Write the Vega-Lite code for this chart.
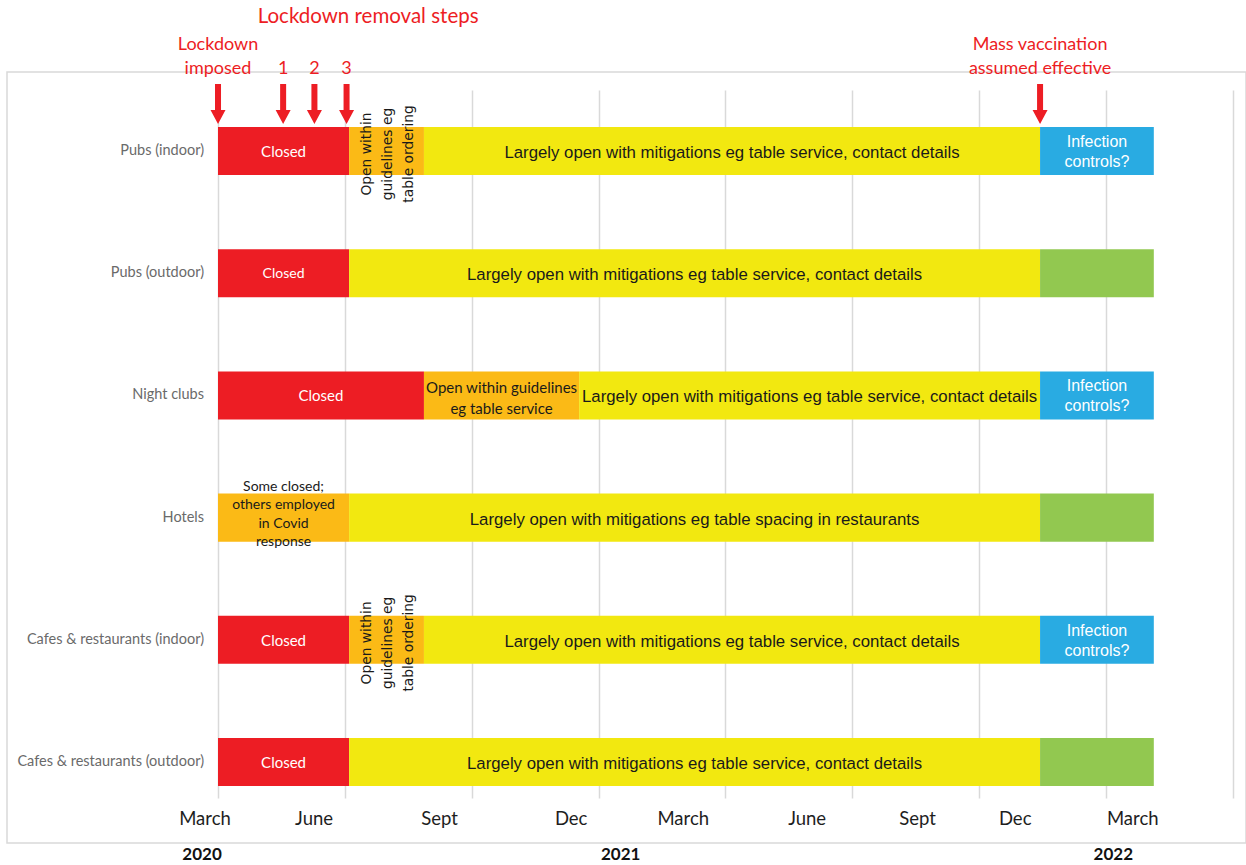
{
  "$schema": "https://vega.github.io/schema/vega-lite/v6.json",
  "width": 1239,
  "height": 771,
  "autosize": {"type": "none"},
  "padding": {"left": 7, "top": 72, "right": 0, "bottom": 22},
  "background": "#ffffff",
  "config": {
    "view": {"stroke": "#d9d9d9", "strokeWidth": 1.5},
    "text": {"font": "Lato"}
  },
  "datasets": {
    "segments": [
      {"task": "Pubs (indoor)", "start": 0, "end": 3.1, "status": "Closed", "label": "Closed"},
      {"task": "Pubs (indoor)", "start": 3.1, "end": 4.87, "status": "Restricted", "label": "Open within\nguidelines eg\ntable ordering"},
      {"task": "Pubs (indoor)", "start": 4.87, "end": 19.44, "status": "Open with mitigations", "label": "Largely open with mitigations eg table service, contact details"},
      {"task": "Pubs (indoor)", "start": 19.44, "end": 22.13, "status": "Infection controls", "label": "Infection\ncontrols?"},
      {"task": "Pubs (outdoor)", "start": 0, "end": 3.1, "status": "Closed", "label": "Closed"},
      {"task": "Pubs (outdoor)", "start": 3.1, "end": 19.44, "status": "Open with mitigations", "label": "Largely open with mitigations eg table service, contact details"},
      {"task": "Pubs (outdoor)", "start": 19.44, "end": 22.13, "status": "Fully open", "label": ""},
      {"task": "Night clubs", "start": 0, "end": 4.87, "status": "Closed", "label": "Closed"},
      {"task": "Night clubs", "start": 4.87, "end": 8.54, "status": "Restricted", "label": "Open within guidelines\neg table service"},
      {"task": "Night clubs", "start": 8.54, "end": 19.44, "status": "Open with mitigations", "label": "Largely open with mitigations eg table service, contact details"},
      {"task": "Night clubs", "start": 19.44, "end": 22.13, "status": "Infection controls", "label": "Infection\ncontrols?"},
      {"task": "Hotels", "start": 0, "end": 3.1, "status": "Restricted", "label": "Some closed;\nothers employed\nin Covid\nresponse"},
      {"task": "Hotels", "start": 3.1, "end": 19.44, "status": "Open with mitigations", "label": "Largely open with mitigations eg table spacing in restaurants"},
      {"task": "Hotels", "start": 19.44, "end": 22.13, "status": "Fully open", "label": ""},
      {"task": "Cafes & restaurants (indoor)", "start": 0, "end": 3.1, "status": "Closed", "label": "Closed"},
      {"task": "Cafes & restaurants (indoor)", "start": 3.1, "end": 4.87, "status": "Restricted", "label": "Open within\nguidelines eg\ntable ordering"},
      {"task": "Cafes & restaurants (indoor)", "start": 4.87, "end": 19.44, "status": "Open with mitigations", "label": "Largely open with mitigations eg table service, contact details"},
      {"task": "Cafes & restaurants (indoor)", "start": 19.44, "end": 22.13, "status": "Infection controls", "label": "Infection\ncontrols?"},
      {"task": "Cafes & restaurants (outdoor)", "start": 0, "end": 3.1, "status": "Closed", "label": "Closed"},
      {"task": "Cafes & restaurants (outdoor)", "start": 3.1, "end": 19.44, "status": "Open with mitigations", "label": "Largely open with mitigations eg table service, contact details"},
      {"task": "Cafes & restaurants (outdoor)", "start": 19.44, "end": 22.13, "status": "Fully open", "label": ""}
    ],
    "events": [
      {"event": "Lockdown\nimposed", "month": 0},
      {"event": "1", "month": 1.54},
      {"event": "2", "month": 2.28},
      {"event": "3", "month": 3.04},
      {"event": "Mass vaccination\nassumed effective", "month": 19.44}
    ],
    "headings": [
      {"heading": "Lockdown removal steps", "month": 3.55}
    ]
  },
  "layer": [
    {
      "data": {"name": "segments"},
      "mark": {"type": "bar"},
      "encoding": {
        "x": {
          "field": "start", "type": "quantitative",
          "scale": {"domain": [-4.99, 24.31], "nice": false, "zero": false},
          "axis": {"orient": "bottom", "values": [0, 3, 6, 9, 12, 15, 18, 21, 24], "grid": true, "gridColor": "#d9d9d9", "gridWidth": 1.5, "labels": false, "ticks": false, "domain": false, "title": null}
        },
        "x2": {"field": "end"},
        "y": {
          "field": "task", "type": "nominal",
          "scale": {"domain": ["Cafes & restaurants (outdoor)", "Cafes & restaurants (indoor)", "Hotels", "Night clubs", "Pubs (outdoor)", "Pubs (indoor)"], "range": [45, 753], "reverse": true, "paddingInner": 0.607, "paddingOuter": 0.2, "align": 0.204},
          "axis": null
        },
        "color": {
          "field": "status", "type": "nominal",
          "scale": {"domain": ["Closed", "Restricted", "Open with mitigations", "Infection controls", "Fully open"], "range": ["#ED1D24", "#FBBA16", "#F2E810", "#29ABE2", "#92C850"]},
          "legend": null
        }
      }
    },
    {
      "data": {"name": "segments"},
      "transform": [{"filter": "datum.start === 0"}],
      "mark": {"type": "text", "font": "Lato", "fontSize": 14.5, "color": "#6a6a6a", "align": "right", "dx": -14},
      "encoding": {
        "x": {"datum": 0, "type": "quantitative", "scale": {"domain": [-4.99, 24.31], "nice": false, "zero": false}, "axis": null},
        "y": {"field": "task", "type": "nominal", "scale": {"domain": ["Cafes & restaurants (outdoor)", "Cafes & restaurants (indoor)", "Hotels", "Night clubs", "Pubs (outdoor)", "Pubs (indoor)"], "range": [45, 753], "reverse": true, "paddingInner": 0.607, "paddingOuter": 0.2, "align": 0.204}, "axis": null},
        "text": {"field": "task"}
      }
    },
    {
      "data": {"name": "segments"},
      "transform": [
        {"filter": "datum.status === 'Closed'"},
        {"calculate": "(datum.start + datum.end) / 2", "as": "mid"}
      ],
      "mark": {"type": "text", "font": "Lato", "fontSize": 15, "color": "#ffffff", "dy": 1},
      "encoding": {
        "x": {"field": "mid", "type": "quantitative", "scale": {"domain": [-4.99, 24.31], "nice": false, "zero": false}, "axis": null},
        "y": {"field": "task", "type": "nominal", "scale": {"domain": ["Cafes & restaurants (outdoor)", "Cafes & restaurants (indoor)", "Hotels", "Night clubs", "Pubs (outdoor)", "Pubs (indoor)"], "range": [45, 753], "reverse": true, "paddingInner": 0.607, "paddingOuter": 0.2, "align": 0.204}, "axis": null},
        "text": {"field": "label"},
        "size": {"condition": {"test": "datum.task === 'Pubs (outdoor)'", "value": 14}, "value": 15}
      }
    },
    {
      "data": {"name": "segments"},
      "transform": [
        {"filter": "datum.status === 'Restricted' && (datum.task === 'Pubs (indoor)' || datum.task === 'Cafes & restaurants (indoor)')"},
        {"calculate": "(datum.start + datum.end) / 2", "as": "mid"}
      ],
      "mark": {"type": "text", "font": "DejaVu Sans", "fontSize": 13.8, "angle": 270, "lineBreak": "\n", "lineHeight": 21, "color": "#1a1a1a", "dx": -3, "dy": -20},
      "encoding": {
        "x": {"field": "mid", "type": "quantitative", "scale": {"domain": [-4.99, 24.31], "nice": false, "zero": false}, "axis": null},
        "y": {"field": "task", "type": "nominal", "scale": {"domain": ["Cafes & restaurants (outdoor)", "Cafes & restaurants (indoor)", "Hotels", "Night clubs", "Pubs (outdoor)", "Pubs (indoor)"], "range": [45, 753], "reverse": true, "paddingInner": 0.607, "paddingOuter": 0.2, "align": 0.204}, "axis": null},
        "text": {"field": "label"}
      }
    },
    {
      "data": {"name": "segments"},
      "transform": [
        {"filter": "datum.status === 'Restricted' && datum.task === 'Night clubs'"},
        {"calculate": "(datum.start + datum.end) / 2", "as": "mid"}
      ],
      "mark": {"type": "text", "font": "Lato", "fontSize": 15, "lineBreak": "\n", "lineHeight": 21, "color": "#1a1a1a", "dy": -7},
      "encoding": {
        "x": {"field": "mid", "type": "quantitative", "scale": {"domain": [-4.99, 24.31], "nice": false, "zero": false}, "axis": null},
        "y": {"field": "task", "type": "nominal", "scale": {"domain": ["Cafes & restaurants (outdoor)", "Cafes & restaurants (indoor)", "Hotels", "Night clubs", "Pubs (outdoor)", "Pubs (indoor)"], "range": [45, 753], "reverse": true, "paddingInner": 0.607, "paddingOuter": 0.2, "align": 0.204}, "axis": null},
        "text": {"field": "label"}
      }
    },
    {
      "data": {"name": "segments"},
      "transform": [
        {"filter": "datum.status === 'Restricted' && datum.task === 'Hotels'"},
        {"calculate": "(datum.start + datum.end) / 2", "as": "mid"}
      ],
      "mark": {"type": "text", "font": "Lato", "fontSize": 14, "lineBreak": "\n", "lineHeight": 18.5, "color": "#1a1a1a", "dy": -31},
      "encoding": {
        "x": {"field": "mid", "type": "quantitative", "scale": {"domain": [-4.99, 24.31], "nice": false, "zero": false}, "axis": null},
        "y": {"field": "task", "type": "nominal", "scale": {"domain": ["Cafes & restaurants (outdoor)", "Cafes & restaurants (indoor)", "Hotels", "Night clubs", "Pubs (outdoor)", "Pubs (indoor)"], "range": [45, 753], "reverse": true, "paddingInner": 0.607, "paddingOuter": 0.2, "align": 0.204}, "axis": null},
        "text": {"field": "label"}
      }
    },
    {
      "data": {"name": "segments"},
      "transform": [
        {"filter": "datum.status === 'Open with mitigations'"},
        {"calculate": "(datum.start + datum.end) / 2", "as": "mid"}
      ],
      "mark": {"type": "text", "font": "Liberation Sans", "fontSize": 16.8, "color": "#1a1a1a", "dy": 2},
      "encoding": {
        "x": {
          "field": "mid", "type": "quantitative",
          "scale": {"domain": [-4.99, 24.31], "nice": false, "zero": false},
          "axis": {"orient": "bottom", "offset": -34, "values": [-0.32, 2.26, 5.23, 8.34, 10.99, 13.92, 16.53, 18.84, 21.62], "labelExpr": "datum.value < 1 ? 'March' : datum.value < 4 ? 'June' : datum.value < 7 ? 'Sept' : datum.value < 10 ? 'Dec' : datum.value < 12 ? 'March' : datum.value < 15 ? 'June' : datum.value < 17 ? 'Sept' : datum.value < 20 ? 'Dec' : 'March'", "grid": false, "ticks": false, "domain": false, "title": null, "labelPadding": 0, "labelFont": "Lato", "labelFontSize": 18.5, "labelColor": "#1e1e1e", "labelOverlap": false, "labelFlush": false}
        },
        "y": {"field": "task", "type": "nominal", "scale": {"domain": ["Cafes & restaurants (outdoor)", "Cafes & restaurants (indoor)", "Hotels", "Night clubs", "Pubs (outdoor)", "Pubs (indoor)"], "range": [45, 753], "reverse": true, "paddingInner": 0.607, "paddingOuter": 0.2, "align": 0.204}, "axis": null},
        "text": {"field": "label"}
      }
    },
    {
      "data": {"name": "segments"},
      "transform": [
        {"filter": "datum.status === 'Infection controls'"},
        {"calculate": "(datum.start + datum.end) / 2", "as": "mid"}
      ],
      "mark": {"type": "text", "font": "Liberation Sans", "fontSize": 16, "lineBreak": "\n", "lineHeight": 20, "color": "#ffffff", "dy": -9},
      "encoding": {
        "x": {"field": "mid", "type": "quantitative", "scale": {"domain": [-4.99, 24.31], "nice": false, "zero": false}, "axis": null},
        "y": {"field": "task", "type": "nominal", "scale": {"domain": ["Cafes & restaurants (outdoor)", "Cafes & restaurants (indoor)", "Hotels", "Night clubs", "Pubs (outdoor)", "Pubs (indoor)"], "range": [45, 753], "reverse": true, "paddingInner": 0.607, "paddingOuter": 0.2, "align": 0.204}, "axis": null},
        "text": {"field": "label"}
      }
    },
    {
      "data": {"name": "events"},
      "mark": {"type": "point", "shape": "M -0.3 -6.7 L 0.3 -6.7 L 0.3 -4.1 L 0.75 -4.1 L 0 -2.7 L -0.75 -4.1 L -0.3 -4.1 Z", "filled": true, "size": 400, "color": "#ED1D24", "opacity": 1, "strokeWidth": 0},
      "encoding": {
        "x": {"field": "month", "type": "quantitative", "scale": {"domain": [-4.99, 24.31], "nice": false, "zero": false}, "axis": null},
        "y": {"datum": "Pubs (indoor)", "type": "nominal", "scale": {"domain": ["Cafes & restaurants (outdoor)", "Cafes & restaurants (indoor)", "Hotels", "Night clubs", "Pubs (outdoor)", "Pubs (indoor)"], "range": [45, 753], "reverse": true, "paddingInner": 0.607, "paddingOuter": 0.2, "align": 0.204}, "axis": null}
      }
    },
    {
      "data": {"name": "events"},
      "transform": [{"filter": "indexof(datum.event, '\\n') < 0"}],
      "mark": {"type": "text", "font": "Lato", "fontSize": 18, "baseline": "bottom", "color": "#ED1D24", "dy": -73},
      "encoding": {
        "x": {
          "field": "month", "type": "quantitative",
          "scale": {"domain": [-4.99, 24.31], "nice": false, "zero": false},
          "axis": {"orient": "bottom", "values": [-0.39, 9.51, 21.16], "labelExpr": "datum.value < 5 ? '2020' : datum.value < 15 ? '2021' : '2022'", "grid": false, "ticks": false, "domain": false, "title": null, "labelPadding": 3, "labelFont": "Lato", "labelFontSize": 17, "labelFontWeight": "bold", "labelColor": "#111111", "labelOverlap": false, "labelFlush": false}
        },
        "y": {"datum": "Pubs (indoor)", "type": "nominal", "scale": {"domain": ["Cafes & restaurants (outdoor)", "Cafes & restaurants (indoor)", "Hotels", "Night clubs", "Pubs (outdoor)", "Pubs (indoor)"], "range": [45, 753], "reverse": true, "paddingInner": 0.607, "paddingOuter": 0.2, "align": 0.204}, "axis": null},
        "text": {"field": "event"}
      }
    },
    {
      "data": {"name": "events"},
      "transform": [{"filter": "indexof(datum.event, '\\n') >= 0"}],
      "mark": {"type": "text", "font": "Lato", "fontSize": 18, "lineBreak": "\n", "lineHeight": 24, "baseline": "bottom", "color": "#ED1D24", "dy": -97},
      "encoding": {
        "x": {"field": "month", "type": "quantitative", "scale": {"domain": [-4.99, 24.31], "nice": false, "zero": false}, "axis": null},
        "y": {"datum": "Pubs (indoor)", "type": "nominal", "scale": {"domain": ["Cafes & restaurants (outdoor)", "Cafes & restaurants (indoor)", "Hotels", "Night clubs", "Pubs (outdoor)", "Pubs (indoor)"], "range": [45, 753], "reverse": true, "paddingInner": 0.607, "paddingOuter": 0.2, "align": 0.204}, "axis": null},
        "text": {"field": "event"}
      }
    },
    {
      "data": {"name": "headings"},
      "mark": {"type": "text", "font": "Lato", "fontSize": 20.5, "color": "#ED1D24", "dy": -134},
      "encoding": {
        "x": {"field": "month", "type": "quantitative", "scale": {"domain": [-4.99, 24.31], "nice": false, "zero": false}, "axis": null},
        "y": {"datum": "Pubs (indoor)", "type": "nominal", "scale": {"domain": ["Cafes & restaurants (outdoor)", "Cafes & restaurants (indoor)", "Hotels", "Night clubs", "Pubs (outdoor)", "Pubs (indoor)"], "range": [45, 753], "reverse": true, "paddingInner": 0.607, "paddingOuter": 0.2, "align": 0.204}, "axis": null},
        "text": {"field": "heading"}
      }
    }
  ],
  "resolve": {"axis": {"x": "independent"}}
}
